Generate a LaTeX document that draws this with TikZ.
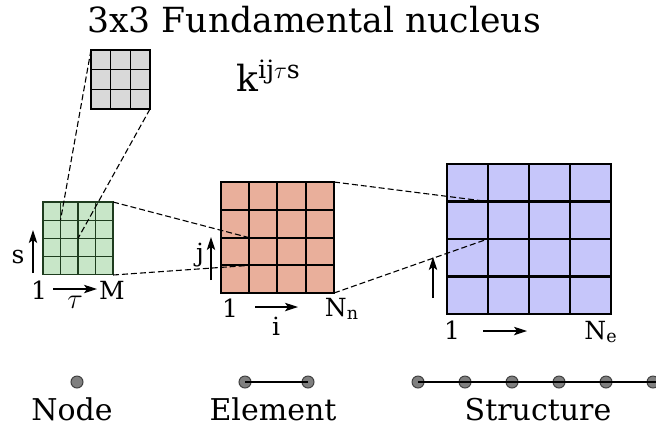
\documentclass[tikz,border=0pt]{standalone}
\usepackage{fontspec}
\setmainfont{DejaVu Serif}
\usetikzlibrary{arrows.meta}
\definecolor{nucgray}{HTML}{D9D9D9}
\definecolor{elgreen}{HTML}{C8E6C8}
\definecolor{elline}{HTML}{1E3C1E}
\definecolor{elpink}{HTML}{E9AF9B}
\definecolor{stblue}{HTML}{C6C6FA}
\definecolor{dotgray}{HTML}{7F7F7F}
% matrix of cells: corner, cells per side, cell width, cell height, fill, line style
\newcommand{\cellgrid}[6]{%
  \begin{scope}[shift={(#1)}, x=#3, y=#4]
    \fill[#5] (0,0) rectangle (#2,#2);
    \foreach \k in {0,...,#2} {\draw[#6] (\k,0) -- (\k,#2); \draw[#6] (0,\k) -- (#2,\k);}
  \end{scope}}

\begin{document}
\begin{tikzpicture}[x=0.5pt, y=-0.5pt,
    lbl/.style={font=\fontsize{12.5}{15}\selectfont, inner sep=0pt},
    big/.style={font=\fontsize{15}{18}\selectfont, inner sep=0pt, anchor=base},
    arr/.style={-{Stealth[length=6.5pt, width=4.2pt, inset=1.5pt]}, line width=0.55pt},
    zoomline/.style={dash pattern=on 3pt off 1.5pt, line width=0.55pt},
    dot/.style={circle, draw=black!75, fill=dotgray, line width=0.5pt, minimum size=6pt, inner sep=0pt}]
  \useasboundingbox (0,0) rectangle (656,430);
  \node[big, font=\fontsize{17.3}{20}\selectfont] (title) at (314,32) {3x3 Fundamental nucleus};
  \node[big, font=\fontsize{18}{21}\selectfont, anchor=base west] (kij) at (236,91) {k\textsuperscript{ij$\tau$s}};

  % the four matrices
  \cellgrid{91,50}{3}{9.85pt}{-9.85pt}{nucgray}{line width=0.65pt, line cap=rect}
  \cellgrid{43,202}{4}{8.75pt}{-9.1pt}{elgreen}{elline, line width=0.65pt, line cap=rect}
  \cellgrid{220.7,182}{4}{14.15pt}{-13.9pt}{elpink}{line width=0.95pt, line cap=rect}
  \cellgrid{446.7,164}{4}{20.5pt}{-18.75pt}{stblue}{line width=1.15pt, line cap=rect}

  \coordinate (g-tl) at (91,50);      \coordinate (g-br) at (150,109);
  \coordinate (m-a) at (60.5,220.2);  \coordinate (m-b) at (78,238.4);
  \coordinate (m-tr) at (113,202);    \coordinate (m-br) at (113,275);
  \coordinate (e-a) at (249,237.6);   \coordinate (e-b) at (249,265.4);
  \coordinate (e-tr) at (334,182);    \coordinate (e-br) at (334,293);
  \coordinate (s-a) at (487.7,201.5); \coordinate (s-b) at (487.7,239);
  \draw[zoomline] (g-tl) -- (m-a); \draw[zoomline] (g-br) -- (m-b);
  \draw[zoomline] (m-tr) -- (e-a); \draw[zoomline] (m-br) -- (e-b);
  \draw[zoomline] (e-tr) -- (s-a); \draw[zoomline] (e-br) -- (s-b);

  % indices of the nucleus
  \node[lbl] (s) at (18,257) {s};
  \coordinate (s0) at (33,273); \coordinate (s1) at (33,230);
  \draw[arr] (s0) -- (s1);
  \node[lbl] (one1) at (39,290) {1};
  \node[lbl] (M) at (112,290) {M};
  \node[lbl, font=\fontsize{14}{16}\selectfont] (tau) at (75,302) {$\tau$};
  \coordinate (t0) at (53,289); \coordinate (t1) at (97,289);
  \draw[arr] (t0) -- (t1);

  % indices of the element
  \node[lbl] (j) at (200,255) {j};
  \coordinate (j0) at (211,280); \coordinate (j1) at (211,237);
  \draw[arr] (j0) -- (j1);
  \node[lbl] (one2) at (230,308) {1};
  \node[lbl] (Nn) at (342,309) {N\textsubscript{n}};
  \node[lbl] (i) at (276,326) {i};
  \coordinate (i0) at (255,307); \coordinate (i1) at (298,307);
  \draw[arr] (i0) -- (i1);

  % indices of the structure
  \coordinate (v0) at (433,298); \coordinate (v1) at (433,257);
  \draw[arr] (v0) -- (v1);
  \node[lbl] (one3) at (452,330) {1};
  \node[lbl] (Ne) at (601,332) {N\textsubscript{e}};
  \coordinate (h0) at (483,331); \coordinate (h1) at (527,331);
  \draw[arr] (h0) -- (h1);

  % node, element, structure
  \node[dot] (n1) at (77,382) {};
  \node[dot] (e1) at (245,382) {};
  \node[dot] (e2) at (308,382) {};
  \draw[line width=0.55pt] (e1.center) -- (e2.center);
  \foreach \p [count=\c] in {418,465,512,559,606,653}
    \node[dot] (st\c) at (\p,382) {};
  \coordinate (st-end) at (664,382);
  \draw[line width=0.55pt] (st1.center) -- (st-end);
  \node[big] (node) at (72,420) {Node};
  \node[big] (element) at (273,420) {Element};
  \node[big] (structure) at (538,420) {Structure};
\end{tikzpicture}
\end{document}
